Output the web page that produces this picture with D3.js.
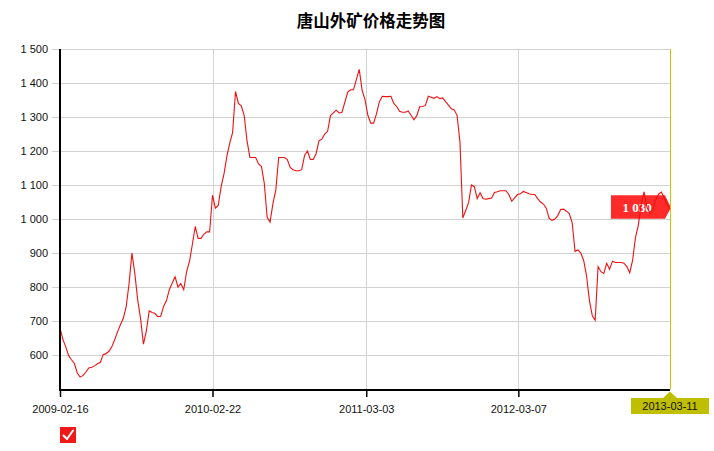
<!DOCTYPE html>
<html>
<head>
<meta charset="utf-8">
<script src="https://cdn.jsdelivr.net/npm/d3@7"></script>
<style>
  body { margin: 0; background: #fff; }
  svg { display: block; }
  .tick-label { font-family: Tahoma, "Liberation Sans", Arial, sans-serif; font-size: 11px; fill: #111; }
</style>
</head>
<body>
<svg id="chart" width="714" height="451"></svg>
<script>
// weekly prices, first week 2009-02-16, last 2013-03-11
const startDate = "2009-02-16";
const prices = [
  680, 646, 624, 598, 586, 575, 547, 535, 540, 550,
  562, 564, 568, 574, 578, 601, 604, 611, 624, 645,
  668, 689, 708, 742, 810, 900, 840, 762, 707, 632,
  670, 730, 725, 722, 713, 714, 743, 760, 792, 812,
  830, 800, 810, 792, 845, 875, 925, 978, 943, 943,
  955, 962, 962, 1070, 1032, 1040, 1095, 1133, 1185, 1223,
  1255, 1375, 1340, 1333, 1305, 1230, 1181, 1181, 1181, 1162,
  1155, 1105, 1005, 991, 1045, 1085, 1181, 1181, 1181, 1175,
  1152, 1145, 1142, 1142, 1145, 1187, 1200, 1175, 1175, 1192,
  1230, 1235, 1250, 1258, 1304, 1312, 1320, 1312, 1314, 1344,
  1373, 1380, 1380, 1410, 1440, 1378, 1351, 1305, 1282, 1282,
  1310, 1345, 1361, 1360, 1360, 1361, 1340, 1331, 1317, 1314,
  1314, 1318, 1305, 1292, 1304, 1330, 1331, 1334, 1361, 1358,
  1355, 1360, 1354, 1356, 1345, 1335, 1324, 1321, 1305, 1226,
  1003, 1025, 1048, 1100, 1095, 1060, 1077, 1060, 1058, 1060,
  1062, 1078, 1080, 1083, 1083, 1083, 1072, 1052, 1062, 1072,
  1074, 1081, 1078, 1074, 1072, 1072, 1060, 1050, 1044, 1032,
  1002, 996, 1000, 1010, 1028, 1029, 1023, 1016, 989, 905,
  909, 900, 878, 833, 760, 715, 702, 860, 845, 840,
  870, 852, 876, 872, 872, 872, 870, 860, 842, 878,
  945, 982, 1046, 1080, 1034, 1018, 1028, 1056, 1073, 1079,
  1062, 1044, 1030
];
const xTickLabels = ["2009-02-16", "2010-02-22", "2011-03-03", "2012-03-07", "2013-03-11"];
const yTickValues = [600, 700, 800, 900, 1000, 1100, 1200, 1300, 1400, 1500];
const title = "唐山外矿价格走势图";

const parseDate = d3.timeParse("%Y-%m-%d");
const start = parseDate(startDate);
const data = prices.map((v, i) => ({ date: d3.timeDay.offset(start, 7 * i), value: v }));
const tickDates = xTickLabels.map(parseDate);
const last = data[data.length - 1];

const LEFT = 60, RIGHT = 670, TOP = 49, BOTTOM = 389;

const x = d3.scaleTime()
  .domain([tickDates[0], tickDates[tickDates.length - 1]])
  .range([LEFT, RIGHT]);
const y = d3.scaleLinear().domain([500, 1500]).range([BOTTOM, TOP]);

const fmt = d3.formatLocale({ decimal: ".", thousands: " ", grouping: [3], currency: ["", ""] }).format(",");
const fmtDate = d3.timeFormat("%Y-%m-%d");

const svg = d3.select("#chart");

// title
svg.append("text")
  .attr("x", 371).attr("y", 26.5)
  .attr("text-anchor", "middle")
  .style("font-family", "'Noto Sans CJK SC', sans-serif")
  .style("font-size", "16.5px")
  .style("font-weight", "bold")
  .text(title);

// horizontal grid + y labels
const gy = svg.append("g").attr("transform", `translate(${LEFT},0)`)
  .call(d3.axisLeft(y).tickValues(yTickValues).tickSize(-(RIGHT - LEFT)).tickFormat(fmt).tickPadding(4));
gy.select(".domain").remove();
gy.selectAll(".tick line").attr("stroke", "#d2d2d2").attr("x1", -8);
gy.selectAll(".tick text").attr("class", "tick-label").attr("x", -12).attr("dy", "0.34em");

// vertical grid
svg.append("g").selectAll("line")
  .data(tickDates.slice(1, -1))
  .join("line")
  .attr("x1", d => Math.round(x(d)) + 0.5).attr("x2", d => Math.round(x(d)) + 0.5)
  .attr("y1", TOP).attr("y2", BOTTOM)
  .attr("stroke", "#d2d2d2");

// value label behind the line
const ly = y(last.value);
const lx = x(last.date);
svg.append("path")
  .attr("d", `M${lx - 59},${ly - 13.5} L${lx - 5},${ly - 13.5} L${lx + 1},${ly - 1} L${lx - 5},${ly + 10} L${lx - 59},${ly + 10} Z`)
  .attr("fill", "#ff2b2b");
svg.append("text")
  .attr("x", lx - 33).attr("y", ly + 3)
  .attr("text-anchor", "middle")
  .style("font-family", "'Liberation Serif', serif")
  .style("font-size", "13px")
  .style("font-weight", "bold")
  .attr("fill", "#fff")
  .text(fmt(last.value));

// crosshair at last point
svg.append("line")
  .attr("x1", Math.round(lx) + 0.5).attr("x2", Math.round(lx) + 0.5)
  .attr("y1", TOP).attr("y2", BOTTOM)
  .attr("stroke", "#c8c800");

// price line
svg.append("path")
  .datum(data)
  .attr("fill", "none")
  .attr("stroke", "#ee1111")
  .attr("stroke-width", 1.1)
  .attr("d", d3.line().x(d => x(d.date)).y(d => y(d.value)));

// axes
svg.append("line")
  .attr("x1", LEFT).attr("x2", LEFT).attr("y1", TOP).attr("y2", BOTTOM + 2)
  .attr("stroke", "#000").attr("stroke-width", 2);
const gx = svg.append("g").attr("transform", `translate(0,${BOTTOM + 1})`)
  .call(d3.axisBottom(x).tickValues(tickDates.slice(0, -1)).tickFormat(fmtDate).tickSizeOuter(0).tickSize(7).tickPadding(6));
gx.select(".domain").attr("stroke-width", 2).attr("d", `M${LEFT},0H${RIGHT}`);
gx.selectAll(".tick line").attr("stroke-width", 1.5);
gx.selectAll(".tick text").attr("class", "tick-label").attr("dy", "0.9em");

// highlighted last date label
const bx = x(last.date);
svg.append("path")
  .attr("d", `M${bx},${BOTTOM + 2.5} L${bx + 7},${BOTTOM + 9} L${bx + 39},${BOTTOM + 9} L${bx + 39},${BOTTOM + 25} L${bx - 39},${BOTTOM + 25} L${bx - 39},${BOTTOM + 9} L${bx - 7},${BOTTOM + 9} Z`)
  .attr("fill", "#bfbf00");
svg.append("text")
  .attr("class", "tick-label")
  .attr("x", bx).attr("y", BOTTOM + 21)
  .attr("text-anchor", "middle")
  .text(fmtDate(last.date));

// legend checkbox
const lg = svg.append("g").attr("transform", "translate(60,427)");
lg.append("rect").attr("width", 16).attr("height", 16).attr("fill", "#f01818");
lg.append("path")
  .attr("d", "M3.5,8.5 L7,12 L13,3.5")
  .attr("fill", "none").attr("stroke", "#fff").attr("stroke-width", 2)
  .attr("stroke-linecap", "round").attr("stroke-linejoin", "round");
</script>
</body>
</html>
